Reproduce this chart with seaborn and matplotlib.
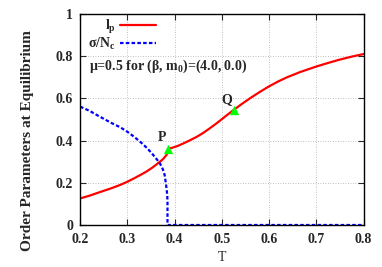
import matplotlib
matplotlib.use("Agg")
import matplotlib.pyplot as plt
import seaborn as sns
import pandas as pd

# l_p curve (jump at T ~ 0.385)
T_lp = [0.20, 0.22, 0.238, 0.266, 0.285, 0.30, 0.315, 0.33, 0.341, 0.351, 0.36, 0.369,
        0.375, 0.38, 0.383, 0.385, 0.386, 0.387, 0.395, 0.407, 0.42, 0.433, 0.447,
        0.461, 0.475, 0.489, 0.507, 0.525, 0.542, 0.56, 0.58, 0.60, 0.62, 0.638,
        0.666, 0.70, 0.725, 0.75, 0.775, 0.80]
lp = [0.126, 0.139, 0.153, 0.174, 0.19, 0.205, 0.222, 0.24, 0.254, 0.269, 0.284, 0.30,
      0.311, 0.324, 0.332, 0.342, 0.354, 0.362, 0.366, 0.375, 0.388, 0.402, 0.418,
      0.437, 0.459, 0.482, 0.514, 0.545, 0.573, 0.601, 0.63, 0.657, 0.681, 0.70,
      0.725, 0.751, 0.768, 0.784, 0.798, 0.81]

# sigma/N_c curve
T_sig = [0.20, 0.22, 0.238, 0.266, 0.285, 0.30, 0.315, 0.33, 0.341, 0.351, 0.36, 0.369,
         0.375, 0.379, 0.383, 0.3845, 0.385, 0.385, 0.50, 0.80]
sig = [0.561, 0.541, 0.518, 0.484, 0.463, 0.442, 0.417, 0.389, 0.366, 0.342, 0.318, 0.292,
       0.265, 0.237, 0.174, 0.14, 0.11, 0.0, 0.0, 0.0]

# marked points
pt_labels = ["P", "Q"]
pt_T = [0.387, 0.525]
pt_v = [0.362, 0.545]

x_ticks = [0.2, 0.3, 0.4, 0.5, 0.6, 0.7, 0.8]
y_ticks = [0, 0.2, 0.4, 0.6, 0.8, 1]
y_ticklabels = ["0", "0.2", "0.4", "0.6", "0.8", "1"]

sns.set_style("ticks")
plt.rcParams['font.family'] = ['Liberation Serif', 'DejaVu Serif']
plt.rcParams['mathtext.fontset'] = 'custom'
plt.rcParams['mathtext.rm'] = 'Liberation Serif:bold'
plt.rcParams['mathtext.it'] = 'Liberation Serif:bold'
plt.rcParams['mathtext.bf'] = 'Liberation Serif:bold'

fig = plt.figure(figsize=(3.82, 2.67), dpi=100)
ax = fig.add_axes([0.2097, 0.1573, 0.7419, 0.7903])

df_lp = pd.DataFrame({"T": T_lp, "v": lp})
df_sig = pd.DataFrame({"T": T_sig, "v": sig})

sns.lineplot(data=df_lp, x="T", y="v", sort=False, estimator=None, color="#ff0000",
             lw=1.6, ax=ax, label=r"l$_\mathregular{p}$")
sns.lineplot(data=df_sig, x="T", y="v", sort=False, estimator=None, color="#0000ff",
             lw=1.6, ax=ax, label=r"σ/N$_\mathregular{c}$", linestyle=(0, (1.6, 1.0)))

ax.scatter(pt_T, pt_v, marker="^", s=45, color="#00ff00", zorder=5, linewidths=0)
for lab, t, v in zip(pt_labels, pt_T, pt_v):
    ax.text(t - 0.004, v + 0.02, lab, fontsize=10, fontweight="bold", ha="right", va="bottom")

ax.set_xlim(0.2, 0.8)
ax.set_ylim(0, 1)
ax.set_xticks(x_ticks)
ax.set_yticks(y_ticks)
ax.set_yticklabels(y_ticklabels)
for lab in ax.get_xticklabels() + ax.get_yticklabels():
    lab.set_fontweight("bold")
    lab.set_fontsize(10)
ax.tick_params(axis="x", direction="in", top=True, length=4, width=0.8, pad=6)
ax.tick_params(axis="y", direction="in", right=True, length=4, width=0.8, pad=5)
ax.grid(True, linestyle=(0, (1, 2)), color="#aaaaaa", lw=0.6)
for s in ax.spines.values():
    s.set_linewidth(1.0)
    s.set_color("black")

ax.set_xlabel("T", fontsize=10, labelpad=3)
ax.set_ylabel("")
fig.text(27 / 382, 1 - 141 / 267, "Order Parameters at Equilibrium", fontsize=11,
         fontweight="bold", rotation=90, ha="center", va="center")

ax.text(0.218, 0.737, r"μ=0.5 for (β, m$_\mathregular{0}$)=(4.0, 0.0)", fontsize=10, fontweight="bold")

leg = ax.legend(loc="upper left", bbox_to_anchor=(0.0, 1.02), frameon=False, fontsize=10,
                markerfirst=False, handlelength=2.6, labelspacing=0.0, borderaxespad=0.2,
                handletextpad=0.3)
for t in leg.get_texts():
    t.set_fontweight("bold")

fig.savefig("out.png", dpi=100)
